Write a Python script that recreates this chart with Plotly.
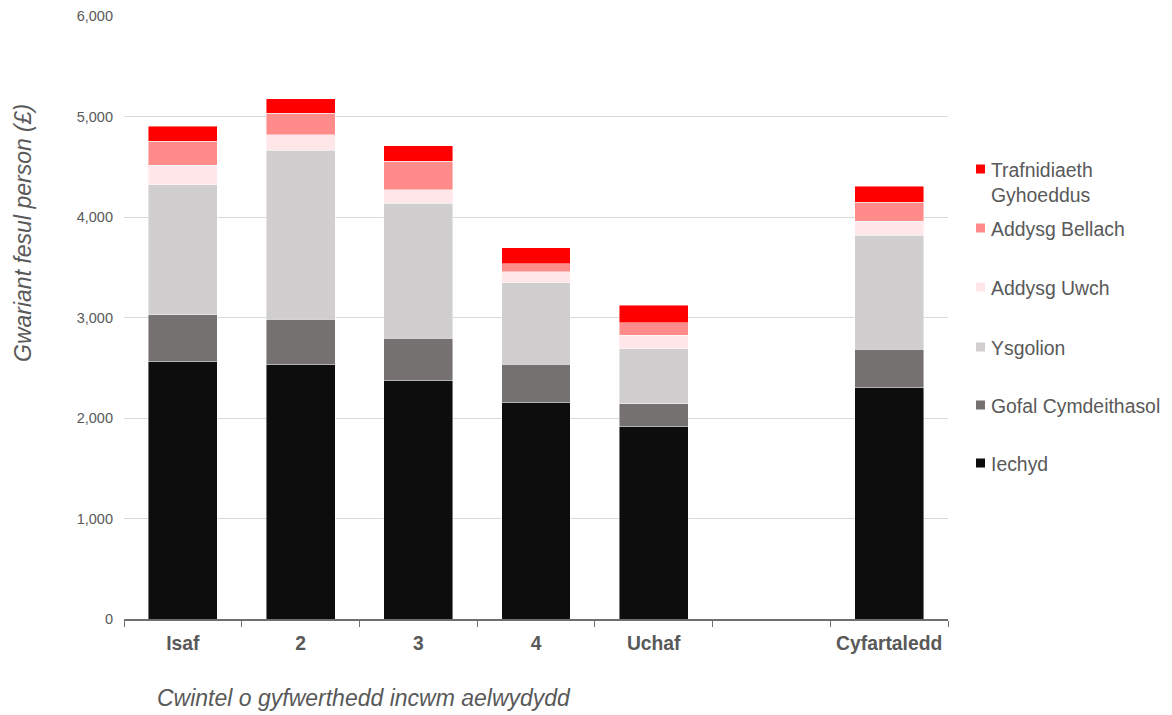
import plotly.graph_objects as go

# Household income quintiles plus the overall average (a blank slot separates them)
categories = ["Isaf", "2", "3", "4", "Uchaf", " ", "Cyfartaledd"]

# Spending per person (£) by service, bottom of the stack first
iechyd = [2563, 2533, 2378, 2159, 1914, None, 2305]
gofal_cymdeithasol = [463, 448, 414, 374, 228, None, 381]
ysgolion = [1296, 1682, 1347, 811, 547, None, 1132]
addysg_uwch = [192, 156, 133, 110, 133, None, 142]
addysg_bellach = [241, 211, 281, 79, 125, None, 186]
trafnidiaeth = [149, 149, 156, 163, 176, None, 159]

series_names = ["Iechyd", "Gofal Cymdeithasol", "Ysgolion", "Addysg Uwch",
                "Addysg Bellach", "Trafnidiaeth Gyhoeddus"]
legend_labels = ["Iechyd", "Gofal Cymdeithasol", "Ysgolion", "Addysg Uwch",
                 "Addysg Bellach", "Trafnidiaeth<br>Gyhoeddus"]
series_values = [iechyd, gofal_cymdeithasol, ysgolion, addysg_uwch,
                 addysg_bellach, trafnidiaeth]
series_colors = ["#0D0D0D", "#767171", "#D0CECE", "#FFE7E9", "#FF8B8B", "#FF0000"]

y_ticks = [0, 1000, 2000, 3000, 4000, 5000, 6000]

FONT = "Liberation Sans, Arial, sans-serif"
TEXT_GREY = "#595959"

W, H = 1172, 715
M_L, M_R, M_T, M_B = 124, 224, 16, 96
PW, PH = W - M_L - M_R, H - M_T - M_B

fig = go.Figure()
for name, vals, col in zip(series_names, series_values, series_colors):
    fig.add_trace(go.Bar(
        x=categories, y=vals, name=name,
        marker=dict(color=col, line=dict(color="rgba(255,255,255,0.55)", width=0.8)),
        showlegend=False,
    ))


def px_x(px):
    return (px - M_L) / PW


def px_y(py):
    return (H - M_B - py) / PH


# Legend drawn on the right, top entry first
legend_rows = [463, 405, 347, 287, 228, 169]
shapes = []
annotations = []
for label, col, row in zip(legend_labels, series_colors, legend_rows):
    shapes.append(dict(
        type="rect", xref="paper", yref="paper",
        x0=px_x(976), x1=px_x(985), y0=px_y(row + 4.5), y1=px_y(row - 4.5),
        fillcolor=col, line=dict(width=0),
    ))
    annotations.append(dict(
        xref="paper", yref="paper", x=px_x(989), y=px_y(row - 12.5),
        xanchor="left", yanchor="top", align="left", showarrow=False,
        text=label, font=dict(family=FONT, size=19.4, color=TEXT_GREY),
    ))

# Axis titles
annotations.append(dict(
    xref="paper", yref="paper", x=px_x(23), y=px_y(233),
    xanchor="center", yanchor="middle", textangle=-90, showarrow=False,
    text="<i>Gwariant fesul person (£)</i>",
    font=dict(family=FONT, size=23, color=TEXT_GREY),
))
annotations.append(dict(
    xref="paper", yref="paper", x=px_x(364), y=px_y(698),
    xanchor="center", yanchor="middle", showarrow=False,
    text="<i>Cwintel o gyfwerthedd incwm aelwydydd</i>",
    font=dict(family=FONT, size=23, color=TEXT_GREY),
))

fig.update_layout(
    barmode="stack",
    bargap=0.414,
    width=W, height=H,
    margin=dict(l=M_L, r=M_R, t=M_T, b=M_B, autoexpand=False),
    paper_bgcolor="white",
    plot_bgcolor="white",
    shapes=shapes,
    annotations=annotations,
    xaxis=dict(
        type="category",
        automargin=False,
        showgrid=False,
        showline=True, linecolor="#6f6f6f", linewidth=1.5,
        ticks="outside", tickson="boundaries", ticklen=6, tickcolor="#6f6f6f",
        ticklabelstandoff=6,
        tickfont=dict(family=FONT, size=19.3, color=TEXT_GREY),
        tickprefix="<b>", ticksuffix="</b>",
    ),
    yaxis=dict(
        range=[0, 6000],
        automargin=False,
        tickvals=y_ticks,
        tickformat=",d",
        showgrid=True, gridcolor="#D9D9D9", gridwidth=1,
        zeroline=False, showline=False,
        ticks="", ticklabelstandoff=10,
        tickfont=dict(family=FONT, size=14.5, color=TEXT_GREY),
    ),
)

fig.write_html("out.html")
